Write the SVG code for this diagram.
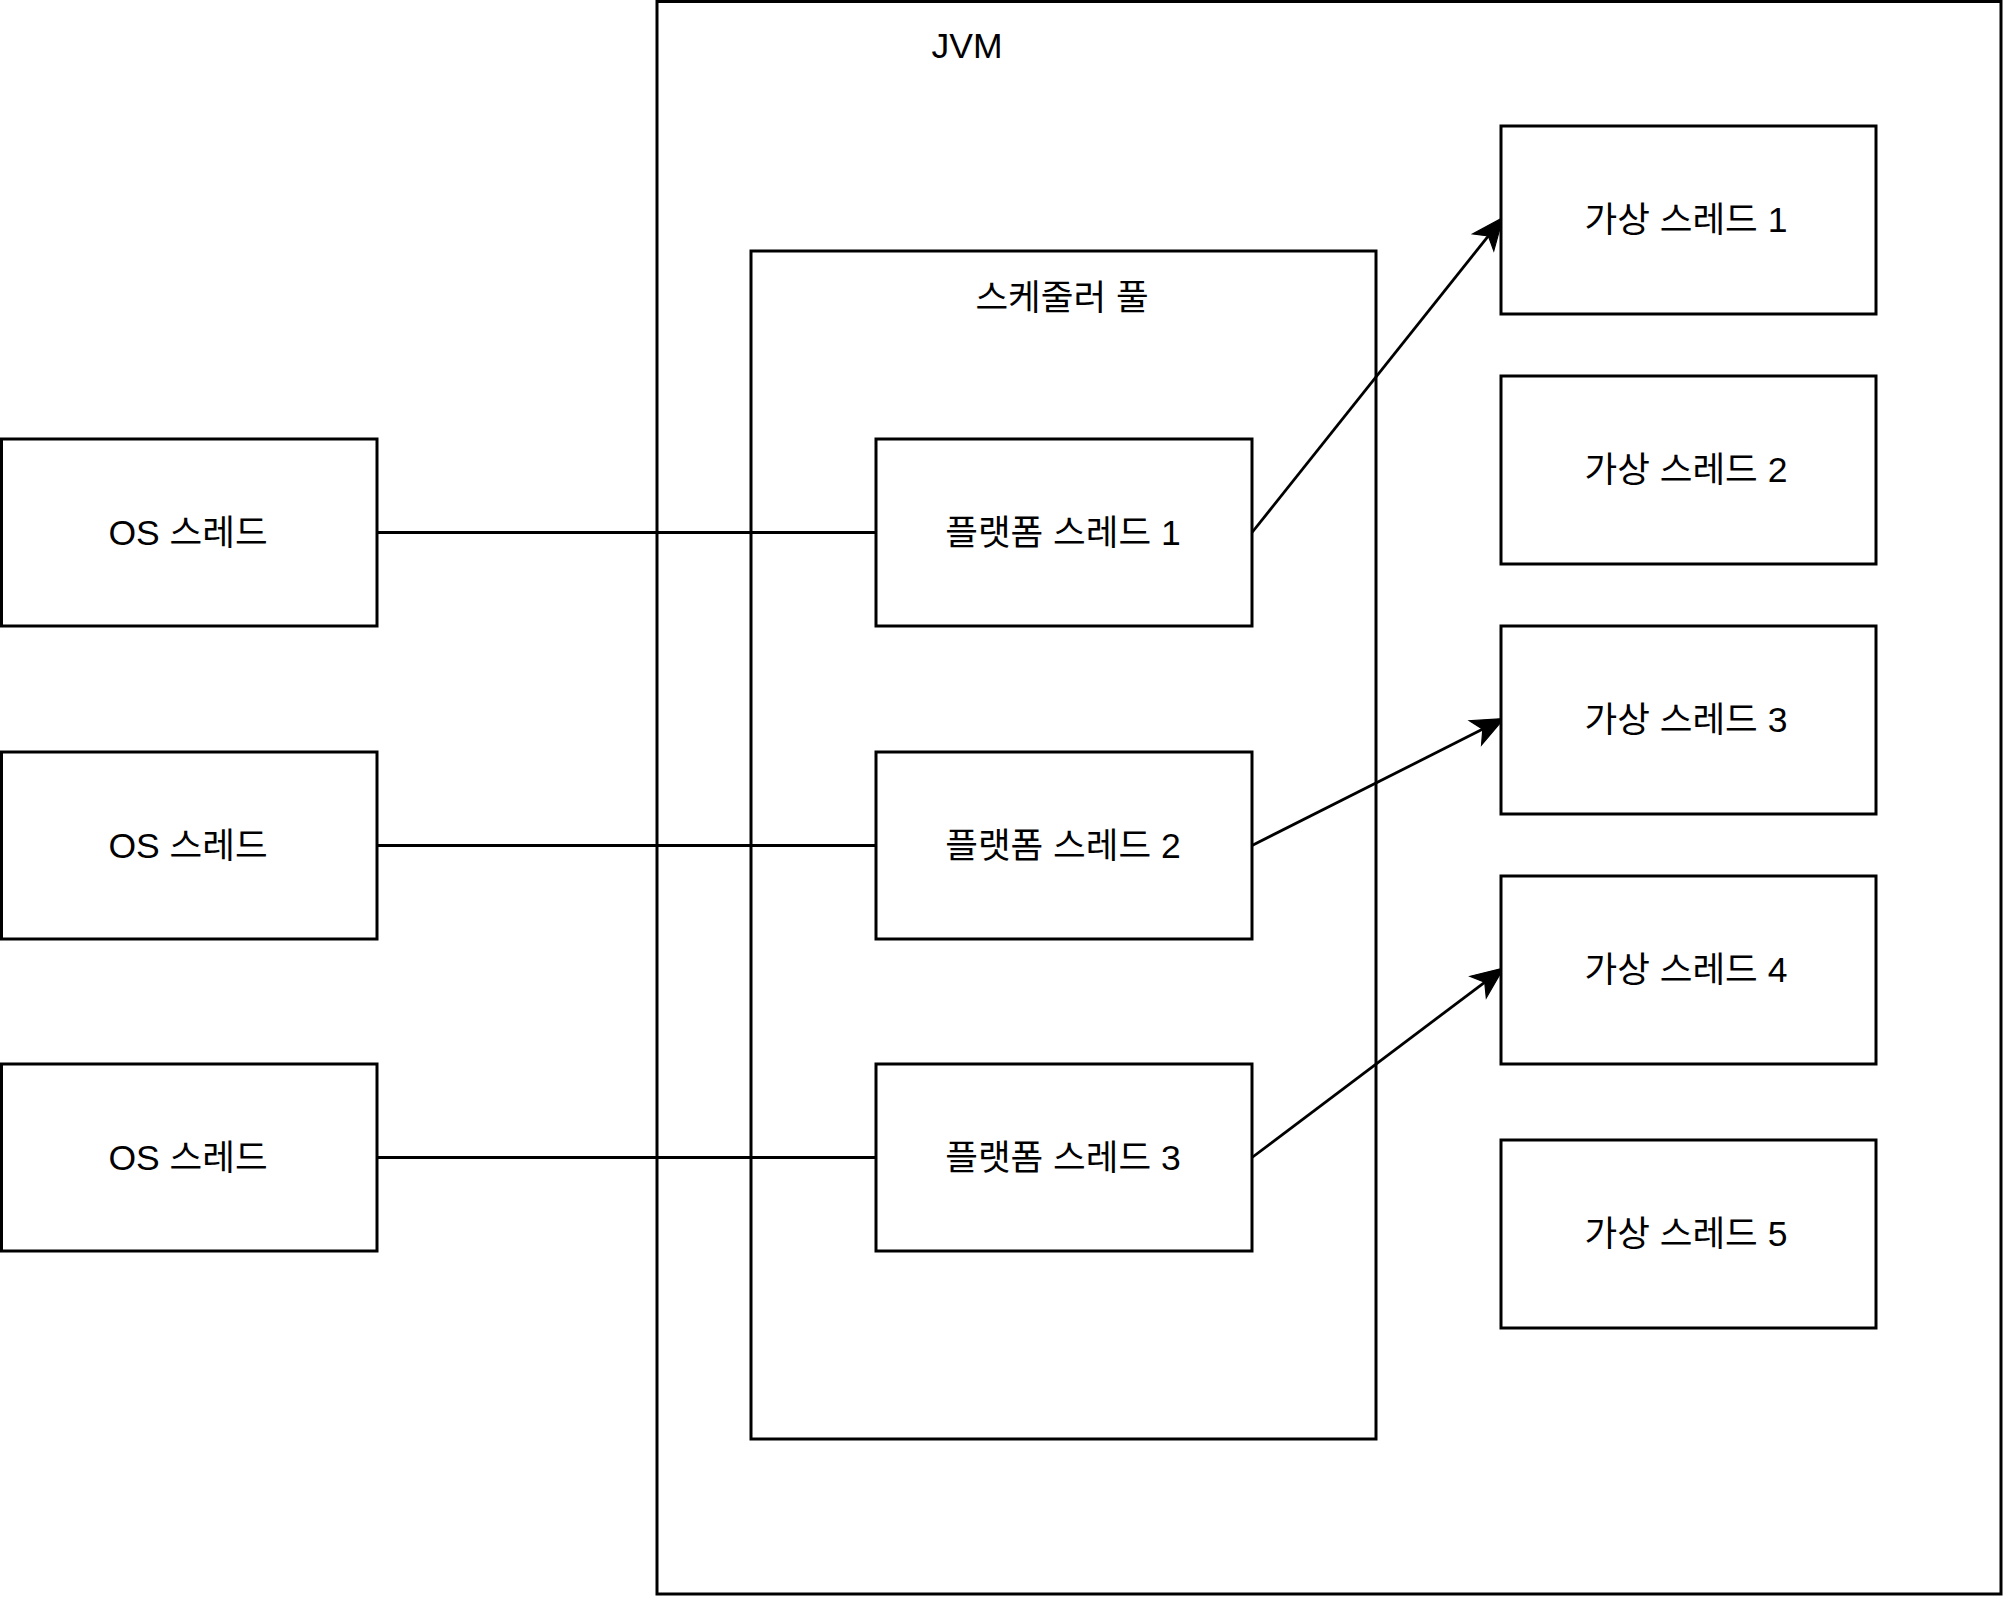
<svg xmlns="http://www.w3.org/2000/svg" width="2003" height="1597" viewBox="0 0 2003 1597">
  <style>
    .box { fill: #ffffff; stroke: #000000; stroke-width: 3; }
    .frame { fill: none; stroke: #000000; stroke-width: 3; }
    .edge { fill: none; stroke: #000000; stroke-width: 2.8; }
    .label { font-family: "Liberation Sans", "Noto Sans CJK KR", sans-serif; font-size: 35.5px; fill: #000000; text-anchor: middle; }
  </style>
  <defs>
    <marker id="arrow" markerUnits="userSpaceOnUse" markerWidth="40" markerHeight="40" viewBox="-12 -14 34 28" refX="0" refY="0" orient="auto">
      <path d="M18,0 L-9,-11.5 L-2,0 L-9,11.5 Z" fill="#000000" stroke="#000000" stroke-width="1"/>
    </marker>
  </defs>
  <rect width="2003" height="1597" fill="#ffffff"/>

  <!-- containers -->
  <g id="jvm">
    <rect class="frame" x="657" y="1.5" width="1344" height="1592.5"/>
    <text class="label" x="967" y="58">JVM</text>
  </g>
  <g id="scheduler-pool">
    <rect class="frame" x="751" y="251" width="625" height="1188"/>
    <text class="label" x="1062" y="310">스케줄러 풀</text>
  </g>

  <!-- connectors -->
  <g id="connectors">
    <line class="edge" x1="377" y1="532.5" x2="876" y2="532.5"/>
    <line class="edge" x1="377" y1="845.5" x2="876" y2="845.5"/>
    <line class="edge" x1="377" y1="1157.5" x2="876" y2="1157.5"/>
    <line class="edge" x1="1252" y1="532.5" x2="1489.8" y2="234.1" marker-end="url(#arrow)"/>
    <line class="edge" x1="1252" y1="845.5" x2="1484.9" y2="728.1" marker-end="url(#arrow)"/>
    <line class="edge" x1="1252" y1="1157.5" x2="1486.6" y2="980.8" marker-end="url(#arrow)"/>
  </g>

  <!-- OS threads -->
  <g id="os-thread-1">
    <rect class="box" x="1.5" y="439" width="375.5" height="187"/>
    <text class="label" x="188" y="545">OS 스레드</text>
  </g>
  <g id="os-thread-2">
    <rect class="box" x="1.5" y="752" width="375.5" height="187"/>
    <text class="label" x="188" y="858">OS 스레드</text>
  </g>
  <g id="os-thread-3">
    <rect class="box" x="1.5" y="1064" width="375.5" height="187"/>
    <text class="label" x="188" y="1170">OS 스레드</text>
  </g>

  <!-- platform threads -->
  <g id="platform-thread-1">
    <rect class="box" x="876" y="439" width="376" height="187"/>
    <text class="label" x="1063" y="545">플랫폼 스레드 1</text>
  </g>
  <g id="platform-thread-2">
    <rect class="box" x="876" y="752" width="376" height="187"/>
    <text class="label" x="1063" y="858">플랫폼 스레드 2</text>
  </g>
  <g id="platform-thread-3">
    <rect class="box" x="876" y="1064" width="376" height="187"/>
    <text class="label" x="1063" y="1170">플랫폼 스레드 3</text>
  </g>

  <!-- virtual threads -->
  <g id="virtual-thread-1">
    <rect class="box" x="1501" y="126" width="375" height="188"/>
    <text class="label" x="1686" y="232">가상 스레드 1</text>
  </g>
  <g id="virtual-thread-2">
    <rect class="box" x="1501" y="376" width="375" height="188"/>
    <text class="label" x="1686" y="482">가상 스레드 2</text>
  </g>
  <g id="virtual-thread-3">
    <rect class="box" x="1501" y="626" width="375" height="188"/>
    <text class="label" x="1686" y="732">가상 스레드 3</text>
  </g>
  <g id="virtual-thread-4">
    <rect class="box" x="1501" y="876" width="375" height="188"/>
    <text class="label" x="1686" y="982">가상 스레드 4</text>
  </g>
  <g id="virtual-thread-5">
    <rect class="box" x="1501" y="1140" width="375" height="188"/>
    <text class="label" x="1686" y="1246">가상 스레드 5</text>
  </g>
</svg>
